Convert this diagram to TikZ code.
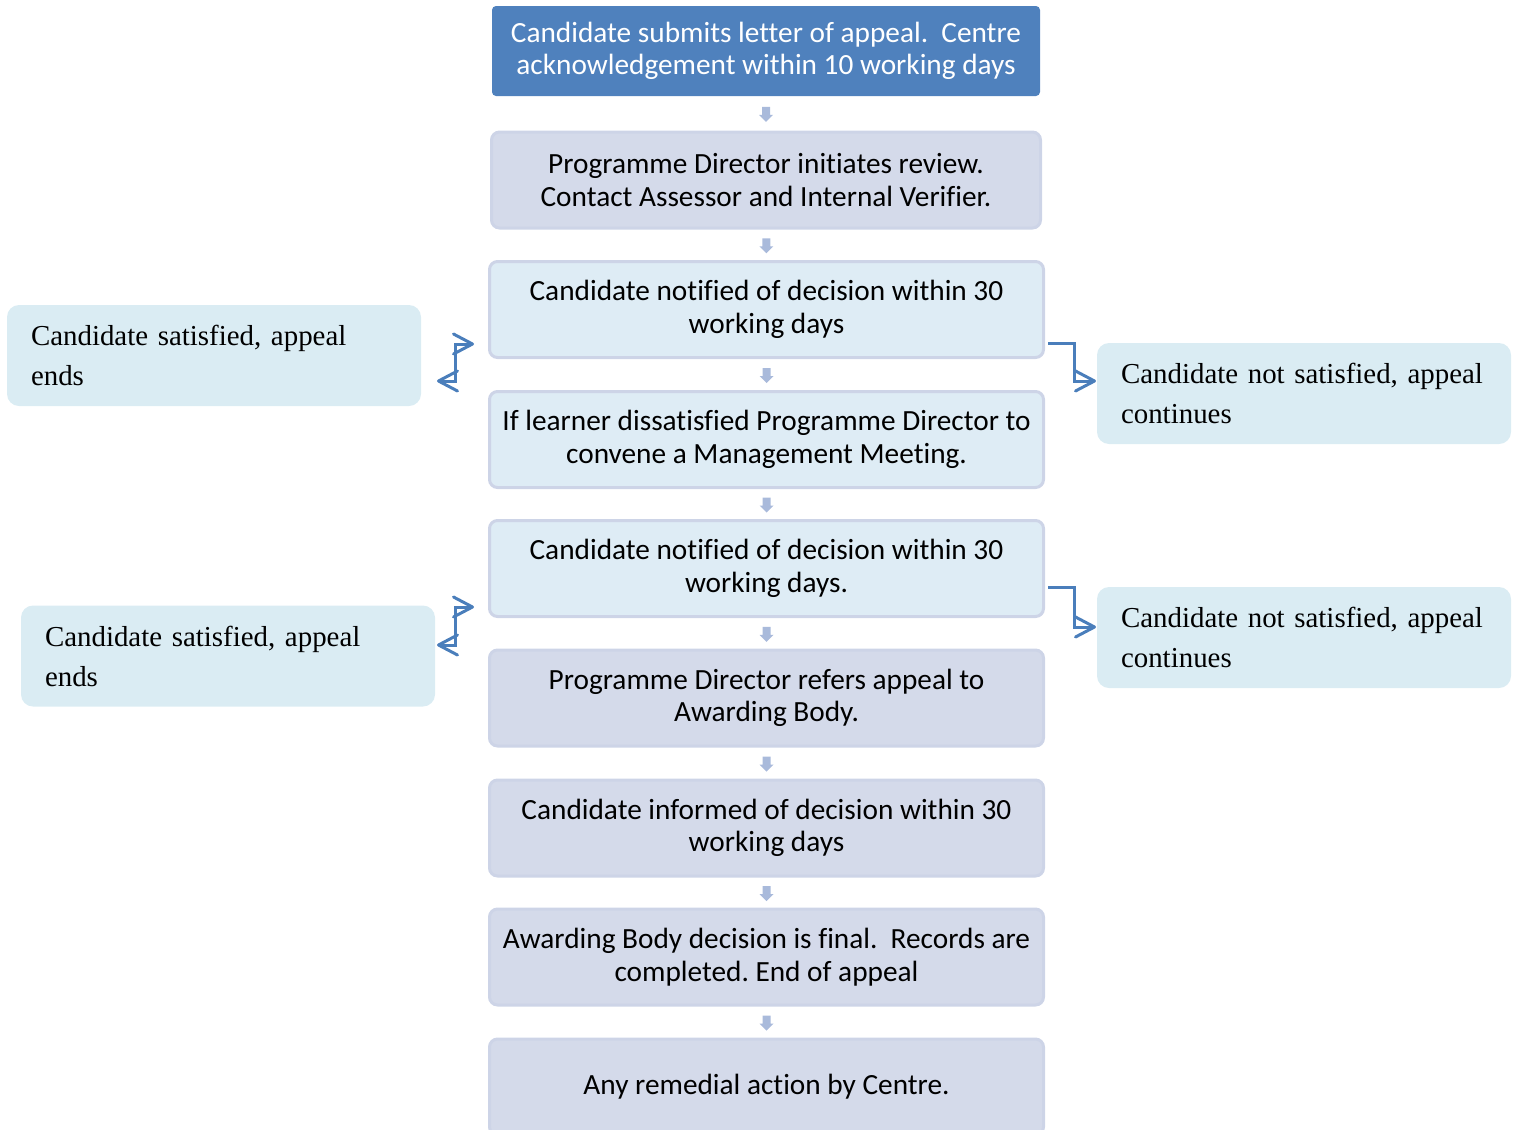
\documentclass[tikz,border=0pt]{standalone}
\usepackage{fontspec}
\setmainfont{Carlito}[Ligatures=NoCommon]
\newfontfamily\serifside{Liberation Serif}[Ligatures=NoCommon]
\usetikzlibrary{arrows.meta,calc}
\definecolor{topfill}{HTML}{4F81BD}
\definecolor{lavfill}{HTML}{D4DAEA}
\definecolor{lavline}{HTML}{CDD4E7}
\definecolor{lbfill}{HTML}{DEECF5}
\definecolor{sidefill}{HTML}{DAECF3}
\definecolor{connc}{HTML}{4A7EBB}
\definecolor{arrfill}{HTML}{A9BADB}
\tikzset{
  mainfont/.style={font=\fontsize{29.3}{32.5}\selectfont},
  topbox/.style={mainfont, draw=none, fill=topfill, text=white, rounded corners=4, minimum width=548, minimum height=90, align=center, inner sep=0},
  lavbox/.style={mainfont, draw=lavline, line width=3, fill=lavfill, rounded corners=8, minimum width=554, minimum height=96, align=center, inner sep=0},
  lbbox/.style={mainfont, draw=lavline, line width=3, fill=lbfill, rounded corners=8, minimum width=554, minimum height=96, align=center, inner sep=0},
  sidebox/.style={font=\serifside\fontsize{28.9}{40}\selectfont, fill=sidefill, draw=none, rounded corners=12, minimum width=414, minimum height=101, text width=366, align=left, inner xsep=24, inner ysep=0},
  conn/.style={draw=connc, line width=3, line join=miter},
  tipA/.tip={Straight Barb[length=19, width=20, line width=3, round=false]},
  dnarrow/.pic={\fill[arrfill] (-4,-7.5) -- (4,-7.5) -- (4,0.5) -- (7,0.5) -- (0,7.5) -- (-7,0.5) -- (-4,0.5) -- cycle;}
}
\begin{document}
\frenchspacing
\begin{tikzpicture}[x=1pt,y=-1pt]
\useasboundingbox (0,0) rectangle (1513,1130);
\node[topbox] (b1) at (766,51) {Candidate submits letter of appeal.~ Centre\\acknowledgement within 10 working days};
\node[lavbox, minimum width=549] (b2) at (766,180) {Programme Director initiates review.\\Contact Assessor and Internal Verifier.};
\node[lbbox] (b3) at (766.5,309.5) {Candidate notified of decision within 30\\working days};
\node[lbbox] (b4) at (766.5,439.5) {If learner dissatisfied Programme Director to\\convene a Management Meeting.};
\node[lbbox] (b5) at (766.5,568.5) {Candidate notified of decision within 30\\working days.};
\node[lavbox] (b6) at (766.5,698) {Programme Director refers appeal to\\Awarding Body.};
\node[lavbox] (b7) at (766.5,828) {Candidate informed of decision within 30\\working days};
\node[lavbox] (b8) at (766.5,957) {Awarding Body decision is final.~ Records are\\completed. End of appeal};
\node[lavbox] (b9) at (766.5,1087) {Any remedial action by Centre.};

\foreach \a/\b in {b1/b2,b2/b3,b3/b4,b4/b5,b5/b6,b6/b7,b7/b8,b8/b9}
  \path ($(\a.south)!.5!(\b.north)$) ++(0,1) pic {dnarrow};

\node[sidebox] (l1) at (214,355.5) {Candidate satisfied, appeal\\ends};
\node[sidebox] (l2) at (228,656) {Candidate satisfied, appeal\\ends};
\node[sidebox] (r1) at (1304,393.5) {Candidate not satisfied, appeal\\continues};
\node[sidebox] (r2) at (1304,637.5) {Candidate not satisfied, appeal\\continues};

\coordinate (la1) at (474,344);
\coordinate (la2) at (437,381);
\coordinate (la3) at (474,607);
\coordinate (la4) at (437,645);
\coordinate (ra1) at (1048,343);
\coordinate (ra2) at (1096,381);
\coordinate (ra3) at (1048,587);
\coordinate (ra4) at (1096,627);

\draw[conn, tipA-tipA] (la1) -- (455,344) -- (455,381) -- (la2);
\draw[conn, tipA-tipA] (la3) -- (455,607) -- (455,645) -- (la4);
\draw[conn, -tipA] (ra1) -- (1074,343) -- (1074,381) -- (ra2);
\draw[conn, -tipA] (ra3) -- (1074,587) -- (1074,627) -- (ra4);
\end{tikzpicture}
\end{document}
